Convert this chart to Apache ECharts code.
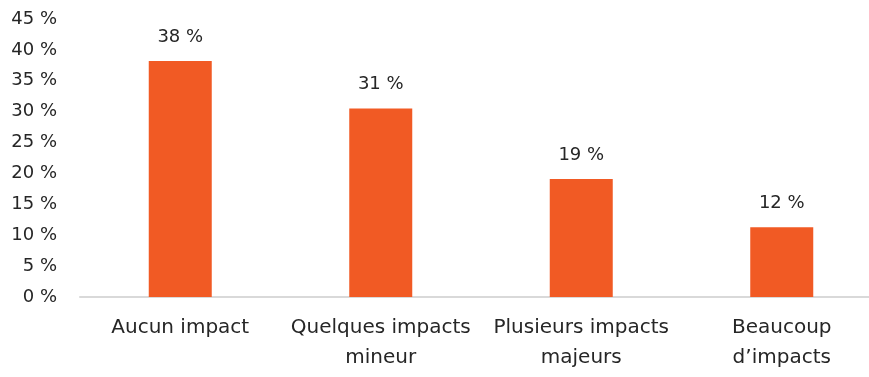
<!DOCTYPE html>
<html><head><meta charset="utf-8">
<script src="https://cdn.jsdelivr.net/npm/echarts@6/dist/echarts.min.js"></script>
<style>html,body{margin:0;padding:0;background:#fff}#c{width:869px;height:377px}</style>
</head><body><div id="c"></div>
<script>
const categories = ["Aucun impact", "Quelques impacts\nmineur", "Plusieurs impacts\nmajeurs", "Beaucoup\nd\u2019impacts"];
const values = [38.2, 30.5, 19.1, 11.3];
const valueLabels = ["38 %", "31 %", "19 %", "12 %"];
const yTicks = [0, 5, 10, 15, 20, 25, 30, 35, 40, 45];

const FONT = 'DejaVu Sans';
const chart = echarts.init(document.getElementById('c'));
chart.setOption({
  animation: false,
  textStyle: { fontFamily: FONT },
  grid: { left: 80, right: -13, top: 19, bottom: 80, outerBoundsMode: 'none', containLabel: false },
  xAxis: {
    type: 'category', data: categories,
    axisLine: { lineStyle: { color: '#d9d9d9', width: 2 } },
    axisTick: { show: false },
    axisLabel: { interval: 0, color: '#262626', fontSize: 20, lineHeight: 30, margin: 16, fontFamily: FONT }
  },
  yAxis: {
    type: 'value', min: yTicks[0], max: yTicks[yTicks.length - 1], interval: 5,
    axisLine: { show: false }, axisTick: { show: false }, splitLine: { show: false },
    axisLabel: { color: '#262626', fontSize: 18, margin: 23, fontFamily: FONT, formatter: v => v + ' %' }
  },
  series: [{
    type: 'bar', data: values, barWidth: 63,
    itemStyle: { color: '#F15A24' },
    label: { show: true, position: 'top', distance: 15, color: '#262626', fontSize: 18, fontFamily: FONT,
      formatter: p => valueLabels[p.dataIndex] }
  }]
});
</script></body></html>
